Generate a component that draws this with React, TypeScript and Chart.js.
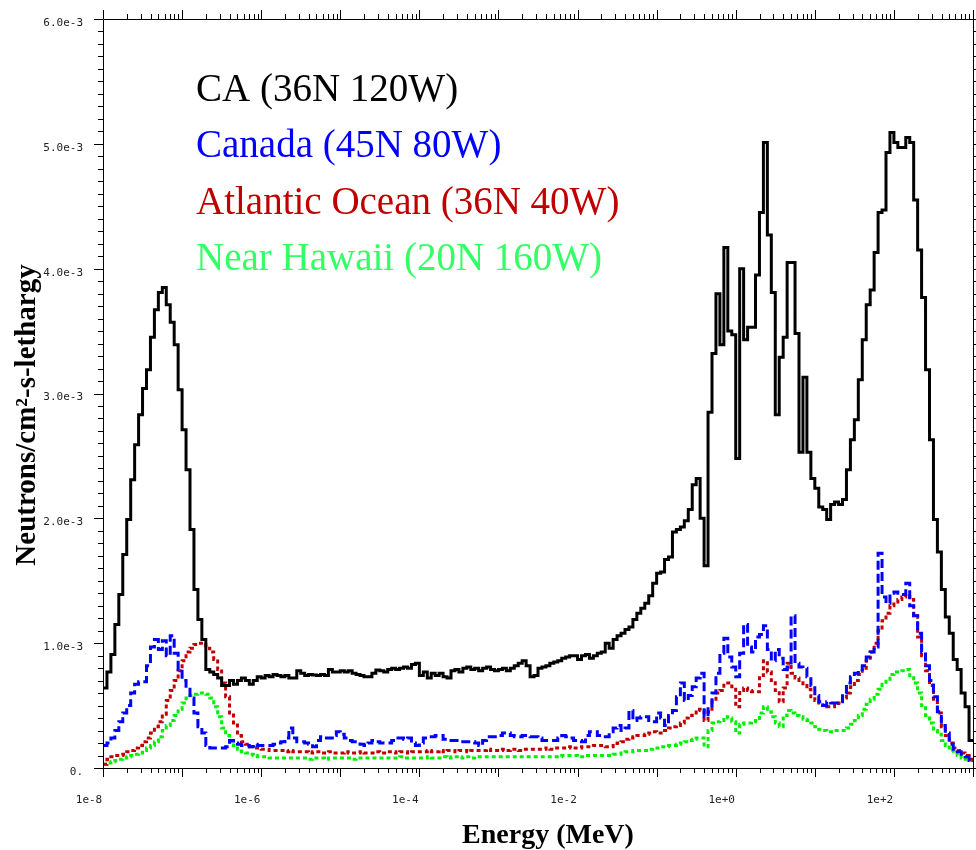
import React, { useEffect, useRef } from 'react';
import { Chart, registerables } from 'chart.js';

Chart.register(...registerables);

// ---------- data (flux values in units of 1e-3 neutrons/cm2-s-lethargy) ----------
const UNIT = 1e-3;
const EXP_MIN = -8;
const EXP_MAX = 3;
const BINS_PER_DECADE = 20;

const seriesNames = ['CA (36N 120W)', 'Canada (45N 80W)', 'Atlantic Ocean (36N 40W)', 'Near Hawaii (20N 160W)'];
const lineColors = ['#000000', '#0000ff', '#c00000', '#00f000'];
const legendColors = ['#000000', '#0000ff', '#c00000', '#33ff66'];

const caValues = [
  0.64, 0.77, 0.91, 1.15, 1.39, 1.71, 1.99, 2.31, 2.59, 2.83,
  3.04, 3.19, 3.45, 3.67, 3.81, 3.85, 3.71, 3.57, 3.39, 3.03,
  2.71, 2.39, 1.91, 1.43, 1.19, 1.03, 0.79, 0.77, 0.75, 0.72,
  0.66, 0.66, 0.70, 0.67, 0.70, 0.72, 0.70, 0.67, 0.70, 0.73,
  0.72, 0.74, 0.73, 0.75, 0.74, 0.73, 0.74, 0.72, 0.72, 0.78,
  0.76, 0.74, 0.75, 0.745, 0.74, 0.75, 0.74, 0.79, 0.77, 0.77,
  0.78, 0.77, 0.78, 0.76, 0.75, 0.74, 0.73, 0.73, 0.76, 0.785,
  0.78, 0.77, 0.79, 0.80, 0.79, 0.80, 0.81, 0.80, 0.83, 0.84,
  0.74, 0.77, 0.72, 0.76, 0.74, 0.76, 0.73, 0.72, 0.78, 0.79,
  0.77, 0.80, 0.81, 0.79, 0.80, 0.78, 0.80, 0.81, 0.79, 0.78,
  0.79, 0.80, 0.78, 0.80, 0.82, 0.84, 0.86, 0.82, 0.73, 0.74,
  0.80, 0.81, 0.82, 0.84, 0.85, 0.86, 0.88, 0.89, 0.90, 0.90,
  0.87, 0.90, 0.91, 0.88, 0.90, 0.92, 0.93, 1.00, 0.96, 1.03,
  1.06, 1.08, 1.11, 1.13, 1.19, 1.24, 1.28, 1.32, 1.38, 1.48,
  1.56, 1.57, 1.67, 1.69, 1.89, 1.91, 1.93, 1.98, 2.07, 2.27,
  2.32, 2.00, 1.62, 2.85, 3.32, 3.80, 3.39, 4.17, 3.50, 3.47,
  2.48, 4.00, 3.43, 3.53, 3.53, 3.95, 4.45, 5.01, 4.27, 3.81,
  2.83, 3.29, 3.45, 4.05, 4.05, 3.48, 2.53, 3.13, 2.53, 2.32,
  2.24, 2.09, 2.07, 1.99, 2.11, 2.13, 2.11, 2.15, 2.39, 2.63,
  2.79, 3.11, 3.43, 3.71, 3.83, 4.13, 4.45, 4.47, 4.93, 5.09,
  5.01, 4.97, 4.97, 5.05, 5.01, 4.55, 4.15, 3.77, 3.19, 2.63,
  1.99, 1.73, 1.43, 1.21, 1.08, 0.87, 0.79, 0.60, 0.49, 0.22,
  0.22,
];

const canadaValues = [
  0.18, 0.20, 0.24, 0.30, 0.37, 0.44, 0.50, 0.60, 0.67, 0.69,
  0.69, 0.82, 0.97, 1.03, 0.95, 1.02, 0.90, 1.06, 0.92, 0.79,
  0.70, 0.63, 0.56, 0.44, 0.33, 0.28, 0.18, 0.16, 0.16, 0.16,
  0.16, 0.17, 0.22, 0.20, 0.19, 0.18, 0.18, 0.17, 0.19, 0.18,
  0.18, 0.18, 0.18, 0.19, 0.20, 0.21, 0.24, 0.32, 0.24, 0.21,
  0.21, 0.20, 0.19, 0.17, 0.22, 0.25, 0.24, 0.24, 0.26, 0.29,
  0.27, 0.24, 0.22, 0.21, 0.21, 0.19, 0.18, 0.20, 0.22, 0.21,
  0.20, 0.20, 0.20, 0.22, 0.24, 0.24, 0.23, 0.24, 0.20, 0.18,
  0.20, 0.24, 0.25, 0.25, 0.26, 0.26, 0.23, 0.22, 0.22, 0.22,
  0.21, 0.21, 0.21, 0.21, 0.20, 0.18, 0.22, 0.25, 0.25, 0.25,
  0.26, 0.28, 0.28, 0.26, 0.25, 0.25, 0.26, 0.26, 0.25, 0.25,
  0.24, 0.22, 0.22, 0.22, 0.22, 0.24, 0.26, 0.25, 0.24, 0.22,
  0.22, 0.21, 0.26, 0.29, 0.29, 0.26, 0.25, 0.25, 0.29, 0.32,
  0.34, 0.30, 0.32, 0.46, 0.38, 0.40, 0.41, 0.41, 0.38, 0.37,
  0.44, 0.40, 0.34, 0.42, 0.46, 0.57, 0.68, 0.54, 0.58, 0.65,
  0.72, 0.76, 0.41, 0.50, 0.60, 0.76, 0.92, 1.04, 0.89, 0.81,
  0.73, 0.92, 1.15, 0.97, 0.93, 1.05, 1.07, 1.14, 0.95, 0.86,
  0.95, 0.88, 0.79, 0.81, 1.22, 0.84, 0.81, 0.80, 0.73, 0.66,
  0.58, 0.53, 0.50, 0.53, 0.52, 0.52, 0.53, 0.60, 0.68, 0.73,
  0.76, 0.79, 0.82, 0.89, 0.93, 0.97, 1.72, 1.37, 1.32, 1.40,
  1.41, 1.40, 1.39, 1.48, 1.30, 1.22, 1.08, 0.93, 0.82, 0.70,
  0.57, 0.45, 0.34, 0.28, 0.19, 0.15, 0.13, 0.11, 0.09, 0.06,
  0.05,
];

const atlanticValues = [
  0.03, 0.07, 0.09, 0.10, 0.10, 0.11, 0.13, 0.14, 0.16, 0.18,
  0.21, 0.24, 0.28, 0.33, 0.37, 0.43, 0.54, 0.62, 0.70, 0.78,
  0.86, 0.93, 0.96, 0.99, 1.00, 1.00, 0.96, 0.93, 0.87, 0.79,
  0.68, 0.57, 0.44, 0.36, 0.26, 0.21, 0.19, 0.17, 0.16, 0.16,
  0.15, 0.15, 0.14, 0.14, 0.14, 0.14, 0.13, 0.14, 0.13, 0.13,
  0.13, 0.13, 0.12, 0.13, 0.13, 0.12, 0.12, 0.13, 0.12, 0.12,
  0.12, 0.13, 0.12, 0.12, 0.12, 0.13, 0.12, 0.12, 0.12, 0.13,
  0.12, 0.12, 0.13, 0.13, 0.12, 0.13, 0.13, 0.12, 0.13, 0.13,
  0.13, 0.13, 0.14, 0.13, 0.13, 0.14, 0.13, 0.14, 0.14, 0.13,
  0.14, 0.14, 0.13, 0.14, 0.14, 0.14, 0.14, 0.15, 0.14, 0.14,
  0.14, 0.15, 0.14, 0.15, 0.15, 0.14, 0.15, 0.15, 0.15, 0.15,
  0.15, 0.15, 0.16, 0.15, 0.16, 0.16, 0.16, 0.16, 0.17, 0.16,
  0.16, 0.17, 0.17, 0.17, 0.18, 0.18, 0.18, 0.17, 0.17, 0.18,
  0.20, 0.21, 0.23, 0.24, 0.25, 0.26, 0.26, 0.27, 0.28, 0.29,
  0.28, 0.28, 0.30, 0.32, 0.33, 0.34, 0.36, 0.40, 0.42, 0.44,
  0.47, 0.46, 0.38, 0.45, 0.55, 0.60, 0.62, 0.68, 0.68, 0.65,
  0.49, 0.62, 0.64, 0.62, 0.61, 0.61, 0.74, 0.86, 0.77, 0.70,
  0.62, 0.53, 0.64, 0.84, 0.76, 0.72, 0.70, 0.66, 0.63, 0.57,
  0.54, 0.52, 0.50, 0.49, 0.49, 0.50, 0.52, 0.56, 0.60, 0.65,
  0.70, 0.75, 0.80, 0.86, 0.93, 1.00, 1.10, 1.18, 1.24, 1.30,
  1.33, 1.35, 1.37, 1.39, 1.35, 1.22, 1.05, 0.90, 0.78, 0.66,
  0.55, 0.44, 0.33, 0.26, 0.20, 0.16, 0.14, 0.12, 0.10, 0.07,
  0.06,
];

const hawaiiValues = [
  0.03, 0.04, 0.05, 0.06, 0.07, 0.08, 0.09, 0.10, 0.11, 0.12,
  0.14, 0.16, 0.18, 0.21, 0.25, 0.30, 0.34, 0.38, 0.42, 0.47,
  0.52, 0.56, 0.58, 0.59, 0.60, 0.60, 0.59, 0.56, 0.49, 0.41,
  0.32, 0.26, 0.21, 0.18, 0.15, 0.13, 0.12, 0.11, 0.10, 0.09,
  0.09, 0.09, 0.08, 0.08, 0.08, 0.08, 0.08, 0.08, 0.08, 0.08,
  0.08, 0.08, 0.07, 0.08, 0.08, 0.08, 0.07, 0.08, 0.08, 0.08,
  0.08, 0.08, 0.08, 0.07, 0.08, 0.08, 0.08, 0.08, 0.08, 0.08,
  0.08, 0.08, 0.08, 0.08, 0.08, 0.09, 0.08, 0.08, 0.08, 0.08,
  0.08, 0.08, 0.09, 0.08, 0.08, 0.08, 0.09, 0.08, 0.09, 0.09,
  0.08, 0.09, 0.09, 0.08, 0.09, 0.09, 0.09, 0.09, 0.09, 0.09,
  0.09, 0.09, 0.09, 0.09, 0.09, 0.09, 0.09, 0.09, 0.09, 0.09,
  0.09, 0.09, 0.09, 0.09, 0.09, 0.09, 0.10, 0.10, 0.10, 0.10,
  0.09, 0.09, 0.10, 0.10, 0.10, 0.10, 0.10, 0.10, 0.10, 0.11,
  0.11, 0.12, 0.13, 0.13, 0.14, 0.14, 0.14, 0.14, 0.15, 0.16,
  0.16, 0.17, 0.17, 0.18, 0.18, 0.19, 0.20, 0.21, 0.22, 0.23,
  0.24, 0.24, 0.17, 0.30, 0.36, 0.37, 0.38, 0.41, 0.40, 0.37,
  0.28, 0.35, 0.36, 0.36, 0.37, 0.38, 0.44, 0.49, 0.45, 0.41,
  0.36, 0.33, 0.42, 0.46, 0.44, 0.42, 0.41, 0.39, 0.38, 0.36,
  0.33, 0.31, 0.30, 0.29, 0.29, 0.30, 0.30, 0.30, 0.32, 0.35,
  0.38, 0.42, 0.47, 0.51, 0.55, 0.59, 0.63, 0.67, 0.71, 0.75,
  0.77, 0.77, 0.78, 0.79, 0.74, 0.68, 0.60, 0.50, 0.42, 0.36,
  0.30, 0.27, 0.22, 0.18, 0.14, 0.12, 0.10, 0.08, 0.07, 0.06,
  0.05,
];

const seriesValues = [caValues, canadaValues, atlanticValues, hawaiiValues];
const seriesDashes: number[][] = [[], [9, 4], [4, 3], [4, 3]];

// axis ticks
const xTickExps = [-8, -7, -6, -5, -4, -3, -2, -1, 0, 1, 2, 3];
const xTickLabels = ['1e-8', '', '1e-6', '', '1e-4', '', '1e-2', '', '1e+0', '', '1e+2', ''];
const yTickValues = [0, 1e-3, 2e-3, 3e-3, 4e-3, 5e-3, 6e-3];
const yTickLabels = ['0.', '1.0e-3', '2.0e-3', '3.0e-3', '4.0e-3', '5.0e-3', '6.0e-3'];
const Y_MINOR_STEP = 1e-4;

const xTitle = 'Energy (MeV)';
const yTitle = 'Neutrons/cm\u00B2-s-lethargy';

// energy grid (bin lower edges, 20 per decade)
const energies = caValues.map((_, i) => Math.pow(10, EXP_MIN + i / BINS_PER_DECADE));

const framePlugin = {
  id: 'frameAndText',
  afterDatasetsDraw(chart: any) {
    const { ctx, chartArea, scales } = chart;
    const { left, right, top, bottom } = chartArea;
    const xs = scales.x;
    const ys = scales.y;
    ctx.save();
    ctx.strokeStyle = '#000';
    ctx.lineWidth = 1;
    ctx.beginPath();
    ctx.moveTo(left + 0.5, top + 0.5);
    ctx.lineTo(right + 0.5, top + 0.5);
    ctx.lineTo(right + 0.5, bottom + 0.5);
    ctx.lineTo(left + 0.5, bottom + 0.5);
    ctx.closePath();
    ctx.stroke();

    const MAJOR = 9;
    const MINOR = 5;
    ctx.beginPath();
    // x ticks (bottom & top)
    for (let e = EXP_MIN; e <= EXP_MAX; e++) {
      for (let m = 1; m <= 9; m++) {
        if (e === EXP_MAX && m > 1) break;
        const v = m * Math.pow(10, e);
        const px = Math.round(xs.getPixelForValue(v)) + 0.5;
        const len = m === 1 ? MAJOR : MINOR;
        ctx.moveTo(px, bottom);
        ctx.lineTo(px, bottom + len);
        ctx.moveTo(px, top);
        ctx.lineTo(px, top - len);
      }
    }
    // y ticks (left & right)
    const nMinor = Math.round(yTickValues[yTickValues.length - 1] / Y_MINOR_STEP);
    for (let k = 0; k <= nMinor; k++) {
      const py = Math.round(ys.getPixelForValue(k * Y_MINOR_STEP)) + 0.5;
      const len = k % 10 === 0 ? MAJOR : MINOR;
      ctx.moveTo(left, py);
      ctx.lineTo(left - len, py);
      ctx.moveTo(right, py);
      ctx.lineTo(right + len, py);
    }
    ctx.stroke();

    // legend text
    ctx.font = '39px "Liberation Serif", "Times New Roman", serif';
    ctx.textAlign = 'left';
    ctx.textBaseline = 'alphabetic';
    const baselines = [101, 157, 214, 270];
    seriesNames.forEach((name, i) => {
      ctx.fillStyle = legendColors[i];
      ctx.fillText(name, 196, baselines[i]);
    });

    // axis titles
    ctx.fillStyle = '#000';
    ctx.font = 'bold 28px "Liberation Serif", "Times New Roman", serif';
    ctx.textAlign = 'center';
    ctx.fillText(xTitle, 548, 843);
    ctx.save();
    ctx.translate(35, 415);
    ctx.rotate(-Math.PI / 2);
    ctx.font = 'bold 29px "Liberation Serif", "Times New Roman", serif';
    ctx.fillText(yTitle, 0, 0);
    ctx.restore();
    ctx.restore();
  },
};

export default function App() {
  const canvasRef = useRef<HTMLCanvasElement | null>(null);

  useEffect(() => {
    const canvas = canvasRef.current;
    if (!canvas) return;
    const datasets = seriesValues.map((vals, si) => ({
      label: seriesNames[si],
      data: vals.map((v, i) => ({ x: energies[i], y: v * UNIT })),
      borderColor: lineColors[si],
      backgroundColor: lineColors[si],
      borderWidth: 3,
      borderDash: seriesDashes[si],
      stepped: 'before' as const,
      pointRadius: 0,
      fill: false,
    }));

    const tickFont = { family: '"DejaVu Sans Mono", monospace', size: 11 };

    const chart = new Chart(canvas, {
      type: 'line',
      data: { datasets },
      options: {
        responsive: false,
        animation: false,
        devicePixelRatio: 1,
        layout: { padding: { top: 19, right: 3, left: 0, bottom: 0 } },
        plugins: { legend: { display: false }, tooltip: { enabled: false } },
        scales: {
          x: {
            type: 'logarithmic',
            position: 'bottom',
            min: Math.pow(10, EXP_MIN),
            max: Math.pow(10, EXP_MAX),
            grid: { display: false, drawTicks: true, tickLength: 26 },
            border: { display: false },
            afterBuildTicks: (s: any) => {
              s.ticks = xTickExps.map((e) => ({ value: Math.pow(10, e) }));
            },
            afterFit: (s: any) => {
              s.height = 82;
            },
            ticks: {
              autoSkip: false,
              maxRotation: 0,
              minRotation: 0,
              padding: 0,
              labelOffset: -14,
              color: '#222',
              font: tickFont,
              callback: (_v: any, i: number) => xTickLabels[i],
            },
          },
          y: {
            type: 'linear',
            position: 'left',
            min: 0,
            max: yTickValues[yTickValues.length - 1],
            grid: { display: false, drawTicks: true, tickLength: 20 },
            border: { display: false },
            afterBuildTicks: (s: any) => {
              s.ticks = yTickValues.map((v) => ({ value: v }));
            },
            afterFit: (s: any) => {
              s.width = 103;
            },
            ticks: {
              autoSkip: false,
              padding: 0,
              labelOffset: 4,
              color: '#222',
              font: tickFont,
              callback: (_v: any, i: number) => yTickLabels[i],
            },
          },
        },
      },
      plugins: [framePlugin],
    } as any);

    return () => chart.destroy();
  }, []);

  return (
    <div style={{ position: 'absolute', left: 0, top: 0, width: 976, height: 850, background: '#fff' }}>
      <canvas ref={canvasRef} width={976} height={850} style={{ display: 'block' }} />
    </div>
  );
}
